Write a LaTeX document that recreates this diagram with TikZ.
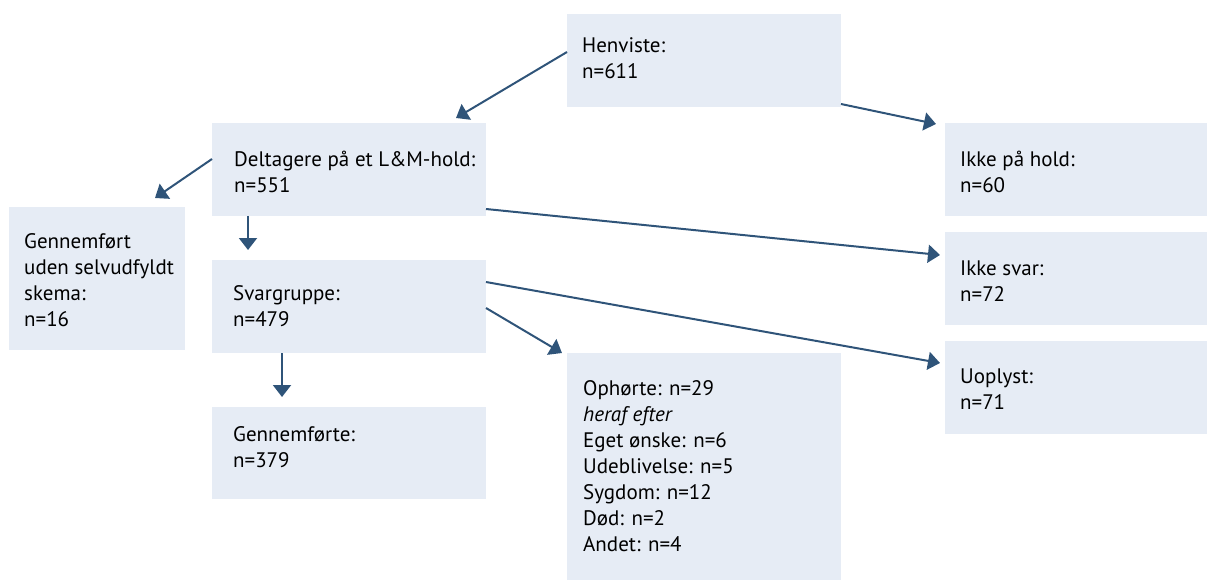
\documentclass[tikz,border=0pt]{standalone}
\usepackage{fontspec}
\setmainfont{PT Sans}
\usetikzlibrary{arrows.meta,calc}
\definecolor{boxfill}{HTML}{E6ECF5}
\definecolor{arrowcol}{HTML}{2F5479}
\tikzset{
  box/.style={fill=boxfill, draw=none, inner sep=0pt, anchor=north west},
  txt/.style={inner sep=0pt, anchor=base west, font=\fontsize{21}{26}\selectfont},
  conn/.style={draw=arrowcol, line width=2pt, -{Triangle[length=12pt,width=18pt]}}
}
\newcommand{\boxat}[6]{% name, x, y, w, h
  \node[box, minimum width=#4pt, minimum height=#5pt] (#1) at (#2,#3) {};}
\newcommand{\lines}[2]{\parbox[t]{#1pt}{\fontsize{21}{26}\selectfont\raggedright #2}}
\begin{document}
\begin{tikzpicture}[x=1pt,y=-1pt]
\useasboundingbox (0,0) rectangle (1207,580);
% boxes
\node[box, minimum width=274pt, minimum height=93pt] (hen) at (567,14) {};
\node[box, minimum width=274pt, minimum height=93pt] (del) at (212,123) {};
\node[box, minimum width=176pt, minimum height=143pt] (gen) at (9,207) {};
\node[box, minimum width=274pt, minimum height=93pt] (svar) at (212,260) {};
\node[box, minimum width=274pt, minimum height=92pt] (gnf) at (212,407) {};
\node[box, minimum width=274pt, minimum height=227pt] (oph) at (567,353) {};
\node[box, minimum width=262pt, minimum height=93pt] (ikh) at (945,123) {};
\node[box, minimum width=262pt, minimum height=93pt] (iks) at (945,232) {};
\node[box, minimum width=262pt, minimum height=93pt] (uop) at (945,341) {};
% texts
\node[txt] (henT) at ($(hen.north west)+(15,39)$) {\lines{250}{Henviste:\\n=611}};
\node[txt] (delT) at ($(del.north west)+(22,44)$) {\lines{250}{Deltagere på et L\&M-hold:\\n=551}};
\node[txt] (genT) at ($(gen.north west)+(15,41)$) {\lines{170}{Gennemført\\uden selvudfyldt\\skema:\\n=16}};
\node[txt] (svarT) at ($(svar.north west)+(21,40)$) {\lines{250}{Svargruppe:\\n=479}};
\node[txt] (gnfT) at ($(gnf.north west)+(21,34)$) {\lines{250}{Gennemførte:\\n=379}};
\node[txt] (ophT) at ($(oph.north west)+(16,42)$) {\lines{250}{Ophørte: n=29\\\textit{heraf efter}\\Eget ønske: n=6\\Udeblivelse: n=5\\Sygdom: n=12\\Død: n=2\\Andet: n=4}};
\node[txt] (ikhT) at ($(ikh.north west)+(15,44)$) {\lines{240}{Ikke på hold:\\n=60}};
\node[txt] (iksT) at ($(iks.north west)+(15,43)$) {\lines{240}{Ikke svar:\\n=72}};
\node[txt] (uopT) at ($(uop.north west)+(15,42)$) {\lines{240}{Uoplyst:\\n=71}};
% connector end points
\coordinate (a1) at (567,52);  \coordinate (b1) at (456,118);
\coordinate (a2) at (841,104); \coordinate (b2) at (936,124);
\coordinate (a3) at (212,159); \coordinate (b3) at (155,198);
\coordinate (a4) at (248,216); \coordinate (b4) at (248,250);
\coordinate (a5) at (486,209); \coordinate (b5) at (940,255);
\coordinate (a6) at (486,308); \coordinate (b6) at (562,353);
\coordinate (a7) at (486,282); \coordinate (b7) at (940,363);
\coordinate (a8) at (282,353); \coordinate (b8) at (282,397);
\foreach \i in {1,...,8} { \draw[conn] (a\i) -- (b\i); }
\end{tikzpicture}
\end{document}
